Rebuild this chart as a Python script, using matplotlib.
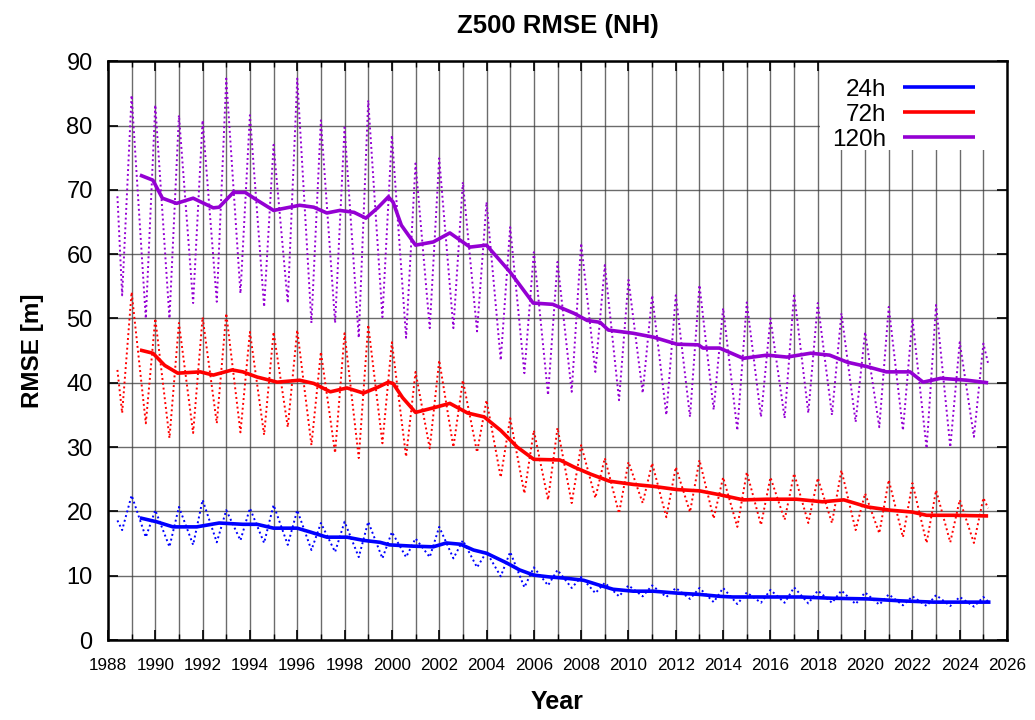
import matplotlib
matplotlib.use("Agg")
import matplotlib.pyplot as plt
from matplotlib.ticker import MultipleLocator
from matplotlib.patches import Rectangle
import numpy as np

plt.rcParams['font.family'] = ['Liberation Sans', 'DejaVu Sans']

# seasonal extremes
# winter peaks at the start of each year 1989..2025, summer troughs ~mid-year 1988..2024
peak_years = np.arange(1989, 2026)
trough_years = np.arange(1988, 2025)
PEAK_FRAC, TROUGH_FRAC = 0.0, 0.6

peaks_24 = [22.5, 20.2, 20.7, 21.8, 20.2, 20.5, 21.0, 20.2, 18.2, 18.4, 18.4, 16.8,
            15.8, 17.6, 15.5, 13.7, 13.7, 11.3, 10.9, 9.8, 8.9, 8.5, 8.5, 8.1, 8.1,
            8.1, 7.4, 7.8, 8.2, 7.7, 7.7, 7.4, 7.1, 6.8, 7.0, 6.7, 6.7]
troughs_24 = [17.1, 16.0, 14.5, 14.8, 15.2, 15.5, 15.1, 14.8, 14.0, 13.7, 12.9, 12.7, 12.9,
              12.9, 12.7, 11.3, 9.9, 8.2, 8.5, 8.1, 7.3, 6.8, 6.8, 6.7, 6.4, 5.9,
              5.6, 5.8, 5.8, 5.7, 5.8, 5.6, 5.5, 5.4, 5.3, 5.3, 5.2]

peaks_72 = [54.1, 50.0, 49.3, 50.2, 50.8, 47.9, 47.9, 48.2, 44.8, 47.7, 49.0, 46.3,
            41.7, 43.5, 40.4, 37.3, 34.5, 32.6, 33.0, 30.3, 28.3, 27.7, 27.5, 26.9, 28.0,
            25.3, 26.1, 25.3, 25.9, 25.2, 26.4, 22.8, 24.9, 24.4, 23.3, 21.8, 22.1]
troughs_72 = [35.3, 33.7, 31.4, 32.2, 33.7, 32.3, 31.9, 33.1, 30.3, 29.1, 28.3, 30.6, 28.5,
              29.8, 30.0, 29.2, 25.3, 22.8, 21.8, 21.3, 22.1, 19.7, 21.3, 19.1, 19.9, 18.9,
              17.6, 17.9, 18.7, 18.2, 18.2, 17.1, 16.6, 16.0, 15.1, 15.2, 15.1]

peaks_120 = [84.7, 83.2, 81.6, 80.8, 87.3, 81.6, 77.0, 87.3, 80.8, 79.7, 83.9, 78.5,
             74.1, 74.9, 71.2, 68.1, 64.2, 60.3, 58.8, 61.7, 58.3, 56.0, 53.6, 53.6, 55.2,
             51.6, 52.5, 50.0, 53.9, 52.4, 50.8, 47.9, 51.8, 50.0, 52.1, 46.3, 46.1]
troughs_120 = [53.6, 50.0, 50.0, 52.4, 52.6, 53.9, 51.8, 52.4, 49.3, 49.3, 47.0, 50.2, 47.0,
               48.5, 48.5, 48.0, 43.5, 41.5, 38.1, 38.6, 41.7, 37.3, 38.4, 35.0, 34.7, 35.8,
               32.6, 34.7, 34.5, 35.3, 35.0, 33.9, 33.1, 32.6, 29.8, 30.0, 31.6]

# first / last monthly values
first_t, last_t = 1988.4, 2025.2
ends_24 = (18.6, 6.0)
ends_72 = (42.0, 20.5)
ends_120 = (69.0, 43.0)

# 12-month running means (solid lines)
mean_t_24 = [1989.35, 1990.05, 1990.75, 1991.75, 1992.7, 1993.7, 1994.3, 1995.0, 1996.0, 1996.55,
             1997.25, 1998.1, 1998.8, 1999.5, 1999.9, 2000.9, 2001.75, 2002.3, 2002.9, 2003.45,
             2004.0, 2004.85, 2005.4, 2006.0, 2006.7, 2007.4, 2008.1, 2008.8, 2009.35, 2010.2,
             2011.05, 2012.05, 2013.0, 2013.85, 2014.4, 2015.85, 2017.25, 2018.65, 2020.1,
             2021.5, 2022.9, 2024.3, 2025.3]
mean_24 = [19.0, 18.4, 17.6, 17.6, 18.2, 18.0, 18.0, 17.4, 17.4, 16.8,
           16.0, 16.0, 15.5, 15.2, 14.8, 14.6, 14.5, 15.1, 14.9, 14.0,
           13.5, 12.0, 10.9, 10.1, 9.8, 9.6, 9.3, 8.5, 7.9, 7.6,
           7.6, 7.3, 7.1, 6.8, 6.7, 6.7, 6.7, 6.5, 6.4,
           6.1, 5.9, 5.9, 5.9]

mean_t_72 = [1989.35, 1989.9, 1990.4, 1990.95, 1991.9, 1992.45, 1993.25, 1993.7, 1994.3, 1995.15,
             1996.1, 1996.7, 1997.4, 1998.1, 1998.8, 1999.4, 1999.85, 2000.05, 2000.45, 2001.0,
             2001.75, 2002.45, 2003.2, 2003.9, 2004.6, 2005.3, 2006.0, 2007.1, 2007.7, 2008.4,
             2009.2, 2010.2, 2011.05, 2012.05, 2013.0, 2013.85, 2014.85, 2015.85, 2017.1, 2018.2,
             2019.1, 2020.1, 2021.05, 2022.0, 2022.6, 2023.7, 2025.2]
mean_72 = [45.1, 44.6, 42.7, 41.5, 41.7, 41.2, 42.0, 41.7, 40.9, 40.1,
           40.4, 39.9, 38.6, 39.2, 38.4, 39.3, 40.1, 39.9, 37.7, 35.4,
           36.1, 36.8, 35.3, 34.7, 32.6, 30.0, 28.1, 28.0, 26.9, 25.8,
           24.7, 24.2, 23.9, 23.4, 23.2, 22.6, 21.8, 21.9, 21.9, 21.5,
           21.8, 20.7, 20.2, 19.9, 19.4, 19.4, 19.3]

mean_t_120 = [1989.35, 1989.9, 1990.3, 1990.9, 1991.6, 1992.45, 1992.7, 1993.3, 1993.8, 1994.3,
              1995.0, 1996.1, 1996.7, 1997.25, 1997.8, 1998.4, 1998.9, 1999.4, 1999.85, 2000.05,
              2000.4, 2001.0, 2001.75, 2002.45, 2003.3, 2004.0, 2005.0, 2005.97, 2006.8, 2007.7,
              2008.25, 2008.8, 2009.15, 2010.2, 2011.05, 2012.05, 2012.95, 2013.15, 2013.85, 2014.85,
              2015.85, 2016.7, 2017.7, 2018.5, 2019.25, 2020.1, 2020.9, 2021.9, 2022.45, 2023.2,
              2024.3, 2025.2]
mean_120 = [72.3, 71.5, 68.7, 67.9, 68.7, 67.2, 67.3, 69.6, 69.6, 68.4,
            66.8, 67.6, 67.3, 66.4, 66.8, 66.5, 65.6, 67.2, 68.9, 68.1,
            64.5, 61.4, 61.9, 63.3, 61.1, 61.4, 57.2, 52.4, 52.2, 50.8,
            49.7, 49.4, 48.2, 47.7, 47.1, 46.0, 45.9, 45.4, 45.4, 43.8,
            44.3, 44.0, 44.6, 44.3, 43.2, 42.5, 41.7, 41.7, 40.1, 40.7,
            40.4, 40.0]

labels = ['24h', '72h', '120h']
colors = ['#0000ff', '#ff0000', '#9400d3']


def seasonal(peaks, troughs, ends):
    t = [first_t]
    v = [ends[0]]
    for i, ty in enumerate(trough_years):
        t.append(ty + TROUGH_FRAC)
        v.append(troughs[i])
        t.append(peak_years[i] + PEAK_FRAC)
        v.append(peaks[i])
    t.append(last_t)
    v.append(ends[1])
    return t, v


fig = plt.figure(figsize=(10.35, 7.2), dpi=100)
ax = fig.add_axes([0.1043, 0.111, 0.8687, 0.804])

series = [(peaks_24, troughs_24, ends_24, mean_t_24, mean_24),
          (peaks_72, troughs_72, ends_72, mean_t_72, mean_72),
          (peaks_120, troughs_120, ends_120, mean_t_120, mean_120)]

for (pk, tr, en, mt, mv), lab, col in zip(series, labels, colors):
    t, v = seasonal(pk, tr, en)
    ax.plot(t, v, color=col, lw=1.4, ls=(0, (1, 1.5)), zorder=3)
    ax.plot(mt, mv, color=col, lw=2.6, label=lab, zorder=4, solid_capstyle='butt')

ax.set_xlim(1988, 2026)
ax.set_ylim(0, 90)
ax.xaxis.set_major_locator(MultipleLocator(2))
ax.xaxis.set_minor_locator(MultipleLocator(1))
ax.yaxis.set_major_locator(MultipleLocator(10))
ax.grid(which='both', axis='x', color='#3a3a3a', lw=1.0, alpha=0.75)
ax.grid(which='major', axis='y', color='#3a3a3a', lw=1.0, alpha=0.75)
ax.set_axisbelow(True)

# white area behind the key, as in the original
ax.add_patch(Rectangle((0.792, 0.846), 0.208, 0.154, transform=ax.transAxes,
                       facecolor='white', edgecolor='none', zorder=0.6))

ax.tick_params(which='both', direction='in', top=True, right=True)
ax.tick_params(which='major', length=7, width=1.2)
ax.tick_params(which='minor', length=4, width=1.0)
ax.tick_params(axis='y', labelsize=17, pad=11)
ax.tick_params(axis='x', labelsize=12.3, pad=13)
for s in ax.spines.values():
    s.set_linewidth(1.8)

ax.set_title('Z500 RMSE (NH)', fontsize=18.5, fontweight='bold', pad=20)
ax.set_ylabel('RMSE [m]', fontsize=17.5, fontweight='bold', labelpad=16)
ax.set_xlabel('Year', fontsize=18, fontweight='bold', labelpad=12)

leg = ax.legend(loc='upper right', bbox_to_anchor=(0.972, 0.982), markerfirst=False,
                fontsize=17.5, frameon=False, handlelength=2.96, handletextpad=0.66,
                labelspacing=0.12, borderpad=0.3, borderaxespad=0)
for line in leg.get_lines():
    line.set_linewidth(2.6)

fig.savefig('out.png', dpi=100)
